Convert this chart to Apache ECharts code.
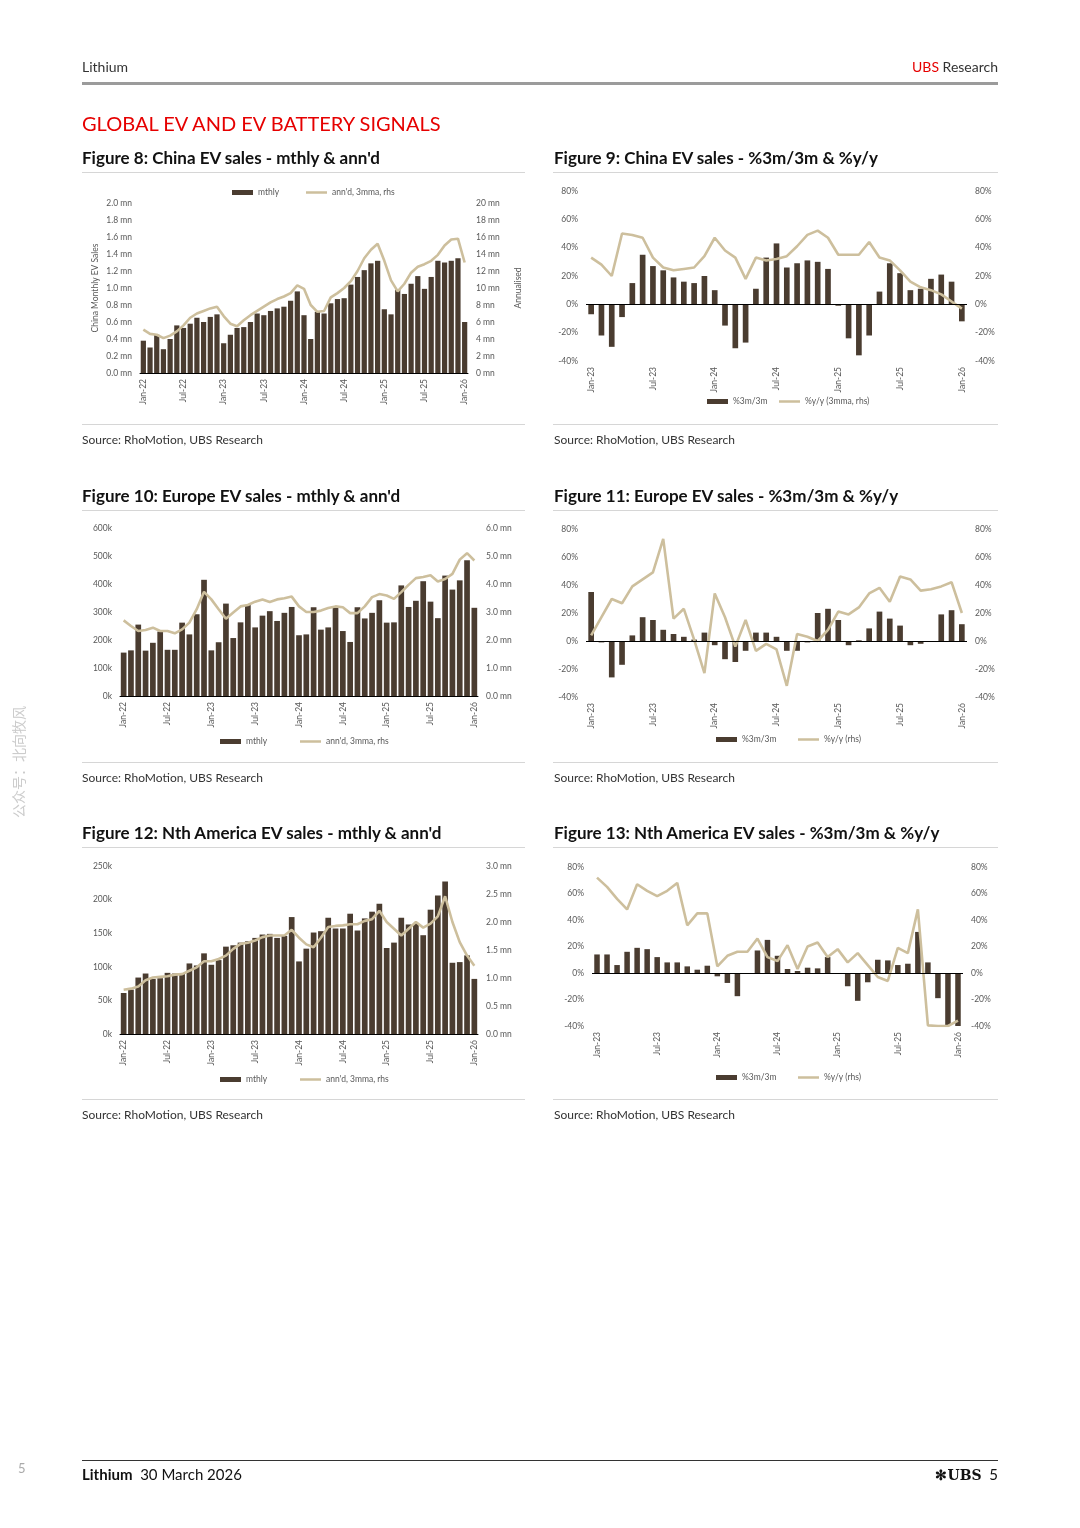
<!DOCTYPE html>
<html><head><meta charset="utf-8">
<script src="https://cdn.jsdelivr.net/npm/echarts@6/dist/echarts.min.js"></script>
<style>
body{margin:0;background:#fff;font-family:Lato,'Open Sans',sans-serif;}
#page{position:relative;width:1080px;height:1528px;overflow:hidden;background:#fff;}
#chart{position:absolute;left:0;top:0;width:1080px;height:1528px;}
.t{position:absolute;white-space:nowrap;}
.rule{position:absolute;}
.ft{font-size:17px;font-weight:bold;color:#111;line-height:20px;}
.src{font-size:12px;color:#333;line-height:15px;}
</style></head>
<body><div id="page">
<div id="chart"></div>
<div class="t" style="left:82px;top:58px;font-size:14px;line-height:18px;color:#333;">Lithium</div>
<div class="t" style="right:82px;top:58px;font-size:14px;line-height:18px;color:#333;"><span style="color:#e60000">UBS</span> Research</div>
<div class="rule" style="left:82px;top:82px;width:916px;height:3px;background:#9b9b9b;"></div>
<div class="t" style="left:82px;top:110px;font-size:20px;line-height:26px;color:#e60000;">GLOBAL EV AND EV BATTERY SIGNALS</div>

<div class="t ft" style="left:82px;top:148px;">Figure 8: China EV sales - mthly &amp; ann'd</div>
<div class="t ft" style="left:554px;top:148px;">Figure 9: China EV sales - %3m/3m &amp; %y/y</div>
<div class="rule" style="left:82px;top:172px;width:443px;height:1px;background:#d6d6d6;"></div>
<div class="rule" style="left:553px;top:172px;width:445px;height:1px;background:#d6d6d6;"></div>
<div class="rule" style="left:82px;top:424px;width:443px;height:1px;background:#d6d6d6;"></div>
<div class="rule" style="left:553px;top:424px;width:445px;height:1px;background:#d6d6d6;"></div>
<div class="t src" style="left:82px;top:432px;">Source: RhoMotion, UBS Research</div>
<div class="t src" style="left:554px;top:432px;">Source: RhoMotion, UBS Research</div>

<div class="t ft" style="left:82px;top:486px;">Figure 10: Europe EV sales - mthly &amp; ann'd</div>
<div class="t ft" style="left:554px;top:486px;">Figure 11: Europe EV sales - %3m/3m &amp; %y/y</div>
<div class="rule" style="left:82px;top:510px;width:443px;height:1px;background:#d6d6d6;"></div>
<div class="rule" style="left:553px;top:510px;width:445px;height:1px;background:#d6d6d6;"></div>
<div class="rule" style="left:82px;top:762px;width:443px;height:1px;background:#d6d6d6;"></div>
<div class="rule" style="left:553px;top:762px;width:445px;height:1px;background:#d6d6d6;"></div>
<div class="t src" style="left:82px;top:770px;">Source: RhoMotion, UBS Research</div>
<div class="t src" style="left:554px;top:770px;">Source: RhoMotion, UBS Research</div>

<div class="t ft" style="left:82px;top:823px;">Figure 12: Nth America EV sales - mthly &amp; ann'd</div>
<div class="t ft" style="left:554px;top:823px;">Figure 13: Nth America EV sales - %3m/3m &amp; %y/y</div>
<div class="rule" style="left:82px;top:847px;width:443px;height:1px;background:#d6d6d6;"></div>
<div class="rule" style="left:553px;top:847px;width:445px;height:1px;background:#d6d6d6;"></div>
<div class="rule" style="left:82px;top:1099px;width:443px;height:1px;background:#d6d6d6;"></div>
<div class="rule" style="left:553px;top:1099px;width:445px;height:1px;background:#d6d6d6;"></div>
<div class="t src" style="left:82px;top:1107px;">Source: RhoMotion, UBS Research</div>
<div class="t src" style="left:554px;top:1107px;">Source: RhoMotion, UBS Research</div>

<div class="rule" style="left:82px;top:1460px;width:916px;height:1px;background:#333;"></div>
<div class="t" style="left:82px;top:1465px;font-size:15px;line-height:18px;color:#111;"><b>Lithium</b>&nbsp;&nbsp;30 March 2026</div>
<div class="t" style="right:82px;top:1465px;font-size:15px;line-height:18px;color:#111;"><span style="font-family:'DejaVu Serif',serif;font-weight:bold;font-size:14px;">✻UBS</span>&nbsp;&nbsp;5</div>
<div class="t" style="left:18px;top:1460px;font-size:13px;line-height:16px;color:#aaa;">5</div>
<div class="t" style="left:-42px;top:754px;width:120px;text-align:center;font-size:14px;line-height:16px;color:#cccccc;font-family:'Noto Sans CJK SC',sans-serif;transform:rotate(-90deg);">公众号：北向牧风</div>
</div>
<script>
// ---------- data ----------
const MONTHS = ['Jan','Feb','Mar','Apr','May','Jun','Jul','Aug','Sep','Oct','Nov','Dec'];
function monthCats(startYear, n){ const o=[]; for(let i=0;i<n;i++){ o.push(MONTHS[i%12]+'-'+String((startYear+Math.floor(i/12))%100).padStart(2,'0')); } return o; }
const cats22 = monthCats(2022, 49);   // Jan-22 .. Jan-26
const cats23 = monthCats(2023, 37);   // Jan-23 .. Jan-26

// China monthly EV sales (mn) and annualised 3mma (mn)
const chinaMthly = [0.38,0.30,0.45,0.28,0.40,0.56,0.53,0.58,0.65,0.60,0.66,0.69,
  0.35,0.45,0.53,0.54,0.60,0.70,0.68,0.73,0.76,0.78,0.85,0.96,
  0.68,0.40,0.72,0.70,0.82,0.87,0.88,1.04,1.13,1.21,1.29,1.32,
  0.75,0.69,0.98,0.93,1.05,1.14,0.99,1.13,1.32,1.30,1.32,1.35,
  0.60];
const chinaAnn = [5.1,4.6,4.5,4.1,4.4,4.9,5.6,6.5,7.0,7.3,7.6,7.8,
  6.7,5.8,5.5,6.2,6.8,7.3,7.8,8.3,8.7,9.0,9.4,10.3,
  9.9,8.0,7.2,7.3,8.9,9.4,10.0,10.8,12.0,13.5,14.5,15.2,
  13.2,10.9,9.6,10.5,11.8,12.5,12.8,13.2,13.9,15.0,15.7,15.8,
  13.0];
// China %3m/3m and %y/y (3mma)
const china3m = [-7,-22,-30,-9,15,35,27,24,19,16,15,20,
  10,-15,-31,-27,11,33,43,26,29,31,30,25,
  -1,-24,-36,-22,9,29,22,10,11,18,21,16,
  -12];
const chinaYoy = [33,28,20,50,49,47,33,26,24,25,26,34,
  47,38,33,18,33,31,32,34,41,49,52,47,
  35,35,35,44,33,31,24,16,12,10,7,2,
  -3];

// Europe monthly (k) and annualised 3mma (mn)
const euMthly = [155,163,255,162,190,230,165,165,262,220,292,415,
  163,192,330,207,263,325,245,287,303,268,297,318,
  217,220,317,237,245,315,232,193,317,277,297,342,
  262,263,395,318,340,410,337,278,430,380,413,485,
  315];
const euAnn = [2.7,2.5,2.32,2.36,2.44,2.32,2.32,2.24,2.38,2.62,3.1,3.72,
  3.45,3.1,2.76,2.98,3.2,3.25,3.37,3.45,3.36,3.45,3.49,3.55,
  3.2,3.0,3.0,3.05,3.14,3.2,3.17,2.96,2.96,3.2,3.53,3.64,
  3.59,3.47,3.71,3.97,4.21,4.25,4.31,4.09,4.18,4.36,4.87,5.1,
  4.84];
const eu3m = [35,-1,-26,-17,4,17,15,8,5,3,1,6,
  -3,-13,-15,-7,6,6,3,-7,-7,-1,20,23,
  15,-3,0.5,9,21,16,11,-3,-2,0,19,22,
  12];
const euYoy = [4,17,30,27,39,44,49,73,16,23,1,-23,
  34,17,-4,15,-7,-2,-6,-32,5,3,0,8,
  21,19,24,34,38,28,46,44,36,37,39,42,
  20];

// North America monthly (k) and annualised 3mma (mn)
const naMthly = [61,66,84,90,82,83,91,90,90,105,102,120,
  103,110,130,132,136,138,143,148,149,143,146,174,
  108,127,151,153,173,157,157,179,154,172,182,194,
  128,136,173,163,165,147,185,206,227,106,107,117,
  82];
const naAnn = [0.79,0.81,0.85,0.96,1.01,1.02,1.03,1.06,1.07,1.13,1.19,1.3,
  1.3,1.34,1.4,1.52,1.61,1.63,1.67,1.73,1.76,1.76,1.76,1.86,
  1.72,1.6,1.55,1.72,1.91,1.93,1.94,1.96,1.96,2.02,2.05,2.2,
  2.0,1.88,1.76,1.88,2.0,1.9,1.97,2.1,2.46,2.0,1.64,1.4,
  1.22];
const na3m = [14,14,6,16,19,18,12,8,8,5,2.5,5.5,
  -2.5,-7.5,-17.5,0,17,25,13,3,1.5,4,3.5,12,
  -0.5,-10,-21,-7,10,9.5,6,7,31,8,-19,-39.5,-40];
const naYoy = [72,65,56,48,67,62,58,62,68,36,45,45,
  5,13,16,16,26,12,9,21,3,20,23,12,
  18,8,15,6,-3,-6,19,15,48,-39.5,-40,-40,-36];

// ---------- styling / building ----------
const BAR = '#4a3c30', LINE = '#cdbf9d', AX = '#595959', FONT = 'Lato';
const FS = 8.5;
const option = {animation:false, textStyle:{fontFamily:FONT}, grid:[], xAxis:[], yAxis:[], series:[], legend:[]};

function addChart(c){
  const gi = option.grid.length;
  option.grid.push({left:c.left, top:c.top, width:c.width, height:c.height});
  option.xAxis.push({type:'category', gridIndex:gi, data:c.cats, boundaryGap:true,
    axisTick:{show:false},
    axisLine:{show:!c.zero, onZero:false, lineStyle:{color:'#000', width:1}},
    axisLabel:{rotate:90, interval:5, fontSize:FS, color:AX, margin:c.xMargin, fontFamily:FONT}});
  const yi = option.yAxis.length;
  const yBase = {type:'value', gridIndex:gi, splitLine:{show:false}, axisLine:{show:false}, axisTick:{show:false},
    nameLocation:'middle', nameRotate:90, nameTextStyle:{fontSize:FS, color:AX, fontFamily:FONT}};
  option.yAxis.push(Object.assign({}, yBase, {position:'left', min:c.lmin, max:c.lmax, interval:c.lint,
    axisLabel:{fontSize:FS, color:AX, margin:8, formatter:c.lfmt, fontFamily:FONT},
    name:c.lname||'', nameGap:c.lgap||0}));
  option.yAxis.push(Object.assign({}, yBase, {position:'right', min:c.rmin, max:c.rmax, interval:c.rint,
    axisLabel:{fontSize:FS, color:AX, margin:8, formatter:c.rfmt, fontFamily:FONT},
    name:c.rname||'', nameGap:c.rgap||0}));
  const bar = {type:'bar', name:c.barName, xAxisIndex:gi, yAxisIndex:yi, data:c.bar,
    itemStyle:{color:BAR}, barCategoryGap:c.gap};
  if (c.zero) bar.markLine = {silent:true, symbol:'none', label:{show:false},
    lineStyle:{color:'#000', width:1, type:'solid'}, data:[{yAxis:0}], animation:false};
  option.series.push(bar);
  option.series.push({type:'line', name:c.lineName, xAxisIndex:gi, yAxisIndex:yi+1, data:c.line,
    showSymbol:false, symbol:'none', lineStyle:{color:LINE, width:2.6}, itemStyle:{color:LINE}, z:3});
  const lg = {top:c.lgTop, icon:'rect', itemWidth:21, selectedMode:false, padding:0,
    textStyle:{fontSize:FS, color:AX, fontFamily:FONT}};
  option.legend.push(Object.assign({}, lg, {left:c.lgBar, data:[c.barName], itemHeight:5}));
  option.legend.push(Object.assign({}, lg, {left:c.lgLine, data:[c.lineName], itemHeight:2.5}));
}

const mn1 = v => v.toFixed(1)+' mn';
const mn0 = v => v+' mn';
const kf = v => v+'k';
const pct = v => v+'%';

// Figure 8
addChart({left:140, top:203, width:328, height:170, cats:cats22, xMargin:6,
  lmin:0, lmax:2.0, lint:0.2, lfmt:mn1, lname:'China Monthly EV Sales', lgap:40,
  rmin:0, rmax:20, rint:2, rfmt:mn0, rname:'Annualised', rgap:46,
  barName:'mthly', bar:chinaMthly, lineName:"ann'd, 3mma, rhs", line:chinaAnn, gap:'22%',
  lgTop:188, lgBar:232, lgLine:306});
// Figure 9
addChart({left:586, top:191, width:381, height:170, cats:cats23, xMargin:6, zero:true,
  lmin:-40, lmax:80, lint:20, lfmt:pct, rmin:-40, rmax:80, rint:20, rfmt:pct,
  barName:'%3m/3m', bar:china3m, lineName:'%y/y (3mma, rhs)', line:chinaYoy, gap:'45%',
  lgTop:397, lgBar:707, lgLine:779});
// Figure 10
addChart({left:120, top:528, width:358, height:168, cats:cats22, xMargin:6,
  lmin:0, lmax:600, lint:100, lfmt:kf, rmin:0, rmax:6, rint:1, rfmt:mn1,
  barName:'mthly', bar:euMthly, lineName:"ann'd, 3mma, rhs", line:euAnn, gap:'22%',
  lgTop:737, lgBar:220, lgLine:300});
// Figure 11
addChart({left:586, top:529, width:381, height:168, cats:cats23, xMargin:6, zero:true,
  lmin:-40, lmax:80, lint:20, lfmt:pct, rmin:-40, rmax:80, rint:20, rfmt:pct,
  barName:'%3m/3m', bar:eu3m, lineName:'%y/y (rhs)', line:euYoy, gap:'45%',
  lgTop:735, lgBar:716, lgLine:798});
// Figure 12
addChart({left:120, top:866, width:358, height:168, cats:cats22, xMargin:6,
  lmin:0, lmax:250, lint:50, lfmt:kf, rmin:0, rmax:3, rint:0.5, rfmt:mn1,
  barName:'mthly', bar:naMthly, lineName:"ann'd, 3mma, rhs", line:naAnn, gap:'22%',
  lgTop:1075, lgBar:220, lgLine:300});
// Figure 13
addChart({left:592, top:867, width:371, height:159, cats:cats23, xMargin:6, zero:true,
  lmin:-40, lmax:80, lint:20, lfmt:pct, rmin:-40, rmax:80, rint:20, rfmt:pct,
  barName:'%3m/3m', bar:na3m, lineName:'%y/y (rhs)', line:naYoy, gap:'45%',
  lgTop:1073, lgBar:716, lgLine:798});

const chart = echarts.init(document.getElementById('chart'), null, {renderer:'canvas'});
chart.setOption(option);
</script>
</body></html>
